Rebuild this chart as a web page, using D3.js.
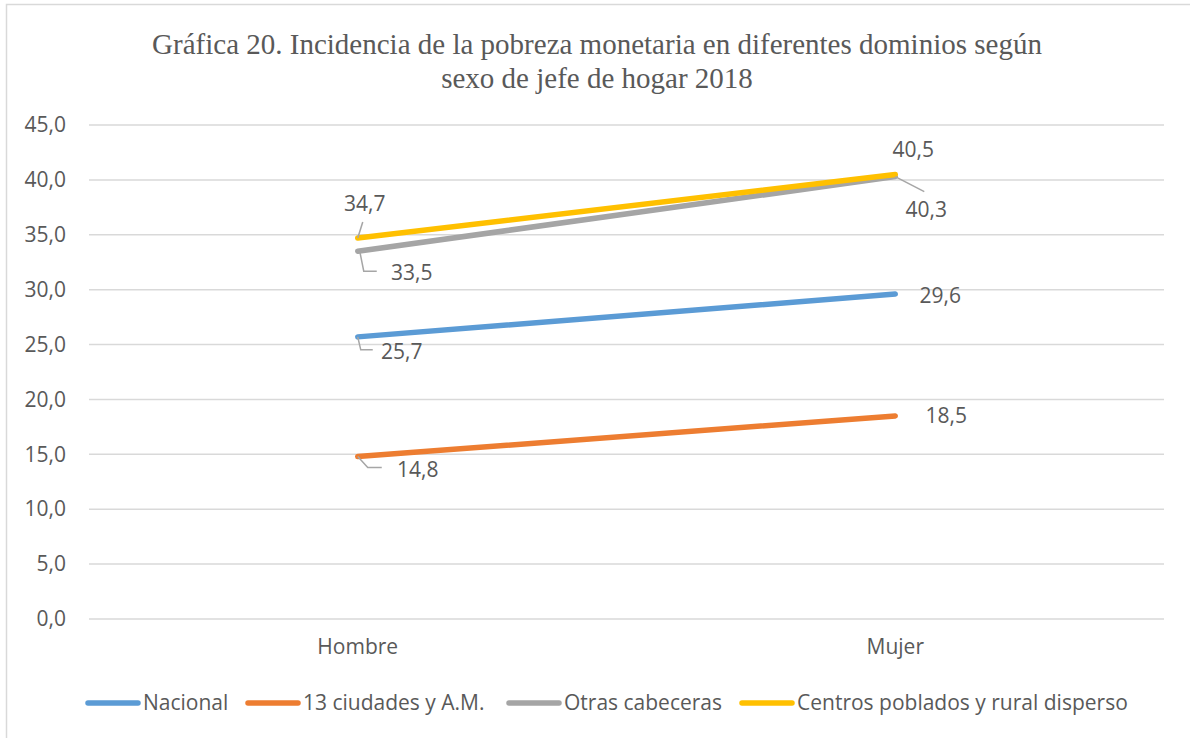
<!DOCTYPE html>
<html>
<head>
<meta charset="utf-8">
<script src="https://cdn.jsdelivr.net/npm/d3@7"></script>
<style>
  body { margin: 0; background: #fff; }
  text { fill: #595959; }
</style>
</head>
<body>
<div id="chart"></div>
<script>
  const width = 1190, height = 738;

  const categories = ["Hombre", "Mujer"];
  const seriesNames = ["Nacional", "13 ciudades y A.M.", "Otras cabeceras", "Centros poblados y rural disperso"];
  const nacional = [25.7, 29.6];
  const ciudades = [14.8, 18.5];
  const otras = [33.5, 40.3];
  const centros = [34.7, 40.5];
  const yTicks = [0, 5, 10, 15, 20, 25, 30, 35, 40, 45];
  const colors = ["#5b9bd5", "#ed7d31", "#a5a5a5", "#ffc000"];

  const series = [nacional, ciudades, otras, centros];

  // label offsets from the point; leader = polyline offsets from the point
  const labelPos = [
    [{dx: 44, dy: 15, leader: [[0, 0], [3, 13], [15, 13]]}, {dx: 45, dy: 2}],
    [{dx: 60, dy: 13, leader: [[0, 0], [10, 11], [24, 11]]}, {dx: 51, dy: 0}],
    [{dx: 54, dy: 21, leader: [[0, 0], [2, 0], [6, 20], [19, 20]]}, {dx: 31, dy: 33, leader: [[0, 0], [29, 15]]}],
    [{dx: 7, dy: -34, leader: [[0, 0], [5, -16]]}, {dx: 18, dy: -25}]
  ];

  const svg = d3.select('#chart')
    .append('svg')
    .attr('width', width)
    .attr('height', height);

  // chart border
  svg.append('rect')
    .attr('x', 6.5).attr('y', 4.5)
    .attr('width', 1200).attr('height', 800)
    .attr('fill', 'none')
    .attr('stroke', '#d9d9d9')
    .attr('stroke-width', 1.5);

  const plotL = 89, plotR = 1164, plotT = 125, plotB = 619;

  const x = d3.scaleBand().domain(categories).range([plotL, plotR]);
  const y = d3.scaleLinear().domain([0, 45]).range([plotB, plotT]);

  const font = "'Open Sans', sans-serif";
  const fs = '21px';

  // title
  svg.append('text')
    .attr('x', 597).attr('y', 54)
    .attr('text-anchor', 'middle')
    .style('font-family', "'Times New Roman', 'Liberation Serif', serif")
    .style('font-size', '29px')
    .selectAll('tspan')
    .data(["Gráfica 20. Incidencia de la pobreza monetaria en diferentes dominios según", "sexo de jefe de hogar 2018"])
    .join('tspan')
    .attr('x', 597)
    .attr('dy', (d, i) => i ? 34 : 0)
    .text(d => d);

  // gridlines
  svg.append('g')
    .selectAll('line')
    .data(yTicks)
    .join('line')
    .attr('x1', plotL).attr('x2', plotR)
    .attr('y1', d => y(d)).attr('y2', d => y(d))
    .attr('stroke', '#d9d9d9')
    .attr('stroke-width', 1.5);

  // y axis labels
  const yAxis = svg.append('g')
    .attr('transform', `translate(${plotL - 20},0)`)
    .call(d3.axisLeft(y).tickValues(yTicks).tickSize(0).tickFormat(d => d3.format('.1f')(d).replace('.', ',')));
  yAxis.select('.domain').remove();
  yAxis.selectAll('text')
    .style('font-family', font)
    .style('font-size', fs)
    .attr('fill', '#595959');

  // x axis labels
  const xAxis = svg.append('g')
    .attr('transform', `translate(0,${plotB + 17})`)
    .call(d3.axisBottom(x).tickSize(0));
  xAxis.select('.domain').remove();
  xAxis.selectAll('text')
    .style('font-family', font)
    .style('font-size', fs)
    .attr('fill', '#595959');

  const line = d3.line()
    .x((d, i) => x(categories[i]) + x.bandwidth() / 2)
    .y(d => y(d));

  svg.append('g')
    .selectAll('path')
    .data(series)
    .join('path')
    .attr('d', d => line(d))
    .attr('fill', 'none')
    .attr('stroke', (d, i) => colors[i])
    .attr('stroke-width', 5.5)
    .attr('stroke-linecap', 'round');

  // data labels
  const lab = svg.append('g');
  series.forEach((s, si) => {
    s.forEach((v, ci) => {
      const px = x(categories[ci]) + x.bandwidth() / 2;
      const py = y(v);
      const p = labelPos[si][ci];
      if (p.leader) {
        lab.append('polyline')
          .attr('points', p.leader.map(q => [px + q[0], py + q[1]].join(',')).join(' '))
          .attr('fill', 'none')
          .attr('stroke', '#a6a6a6')
          .attr('stroke-width', 1.5);
      }
      lab.append('text')
        .attr('x', px + p.dx).attr('y', py + p.dy)
        .attr('text-anchor', 'middle')
        .attr('dy', '0.35em')
        .style('font-family', font)
        .style('font-size', fs)
        .attr('fill', '#404040')
        .text(d3.format('.1f')(v).replace('.', ','));
    });
  });

  // legend
  const legendX = [85, 245, 506, 739];
  const leg = svg.append('g').attr('transform', 'translate(0,703)');
  seriesNames.forEach((n, i) => {
    leg.append('line')
      .attr('x1', legendX[i] + 3).attr('x2', legendX[i] + 53)
      .attr('stroke', colors[i])
      .attr('stroke-width', 5.5)
      .attr('stroke-linecap', 'round');
    leg.append('text')
      .attr('x', legendX[i] + 58)
      .attr('dy', '0.35em')
      .style('font-family', font)
      .style('font-size', fs)
      .attr('fill', '#595959')
      .text(n);
  });
</script>
</body>
</html>
